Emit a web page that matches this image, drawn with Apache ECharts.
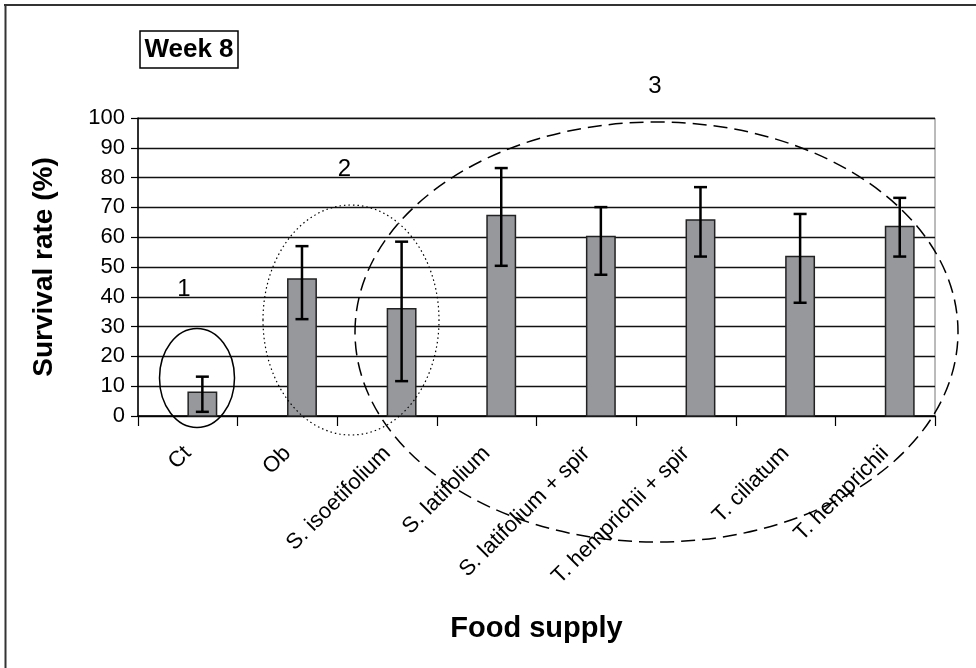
<!DOCTYPE html>
<html>
<head>
<meta charset="utf-8">
<script src="https://cdn.jsdelivr.net/npm/echarts@6/dist/echarts.min.js"></script>
<style>html,body{margin:0;padding:0;background:#fff;}#c{width:976px;height:668px;}</style>
</head>
<body>
<div id="c"></div>
<script>
var categories = ['Ct', 'Ob', 'S. isoetifolium', 'S. latifolium', 'S. latifolium + spir', 'T. hemprichii + spir', 'T. ciliatum', 'T. hemprichii'];
var survival = [8, 46, 36, 67.3, 60.2, 65.8, 53.5, 63.6];
var errLow = [1.4, 32.5, 11.7, 50.4, 47.4, 53.5, 38, 53.5];
var errHigh = [13.2, 57, 58.5, 83.2, 70.1, 76.8, 67.8, 73.2];
var yTicks = [0, 10, 20, 30, 40, 50, 60, 70, 80, 90, 100];

var FONT = 'Liberation Sans, Arial, sans-serif';
var chart = echarts.init(document.getElementById('c'));

var barData = categories.map(function (c, i) { return [i, survival[i]]; });
var errData = categories.map(function (c, i) { return [i, errLow[i], errHigh[i]]; });

var option = {
  animation: false,
  backgroundColor: '#fff',
  grid: { left: 138, right: 41, top: 118, bottom: 252, show: true, borderColor: '#777', borderWidth: 1, backgroundColor: 'transparent' },
  xAxis: {
    type: 'category',
    data: categories,
    boundaryGap: true,
    name: 'Food supply',
    nameLocation: 'middle',
    nameGap: 198,
    nameTextStyle: { fontFamily: FONT, fontSize: 29, fontWeight: 'bold', color: '#000' },
    axisLine: { show: true, lineStyle: { color: '#000', width: 1.5 } },
    axisTick: { show: true, length: 10, interval: 0, lineStyle: { color: '#000', width: 1.2 } },
    axisLabel: { interval: 0, rotate: 45, margin: 34, fontFamily: FONT, fontSize: 22, color: '#000' },
    splitLine: { show: false }
  },
  yAxis: {
    type: 'value',
    min: yTicks[0],
    max: yTicks[yTicks.length - 1],
    interval: yTicks[1] - yTicks[0],
    name: 'Survival rate (%)',
    nameLocation: 'middle',
    nameGap: 80,
    nameRotate: 90,
    nameTextStyle: { fontFamily: FONT, fontSize: 28, fontWeight: 'bold', color: '#000' },
    axisLine: { show: true, lineStyle: { color: '#000', width: 1.5 } },
    axisTick: { show: true, length: 7, lineStyle: { color: '#000', width: 1.2 } },
    axisLabel: { margin: 13, fontFamily: FONT, fontSize: 22, color: '#000' },
    splitLine: { show: true, lineStyle: { color: '#111', width: 1.3 } }
  },
  series: [
    {
      type: 'custom',
      name: 'Survival',
      data: barData,
      z: 3,
      renderItem: function (params, api) {
        var base = api.coord([api.value(0), 0]);
        var top = api.coord([api.value(0), api.value(1)]);
        var band = api.size([1, 0])[0];
        var w = band * 0.285;
        var cx = base[0] + band * 0.146;
        return {
          type: 'rect',
          shape: { x: cx - w / 2, y: top[1], width: w, height: base[1] - top[1] },
          style: { fill: '#97989c', stroke: '#222', lineWidth: 1.5 }
        };
      }
    },
    {
      type: 'custom',
      name: 'Error',
      data: errData,
      z: 4,
      renderItem: function (params, api) {
        var lo = api.coord([api.value(0), api.value(1)]);
        var hi = api.coord([api.value(0), api.value(2)]);
        var band = api.size([1, 0])[0];
        var cx = lo[0] + band * 0.146;
        var cap = 6.5;
        var st = { stroke: '#000', lineWidth: 2.5 };
        return {
          type: 'group',
          children: [
            { type: 'line', shape: { x1: cx, y1: lo[1], x2: cx, y2: hi[1] }, style: st },
            { type: 'line', shape: { x1: cx - cap, y1: lo[1], x2: cx + cap, y2: lo[1] }, style: st },
            { type: 'line', shape: { x1: cx - cap, y1: hi[1], x2: cx + cap, y2: hi[1] }, style: st }
          ]
        };
      }
    }
  ],
  graphic: [
    { type: 'line', z: 100, shape: { x1: 4, y1: 5, x2: 976, y2: 5 }, style: { stroke: '#333', lineWidth: 2 } },
    { type: 'line', z: 100, shape: { x1: 5.5, y1: 4, x2: 5.5, y2: 668 }, style: { stroke: '#333', lineWidth: 2 } },
    { type: 'rect', z: 100, shape: { x: 140, y: 31, width: 98, height: 37 }, style: { fill: '#fff', stroke: '#000', lineWidth: 1.5 } },
    { type: 'text', z: 101, x: 189, y: 50, style: { text: 'Week 8', font: 'bold 26px ' + FONT, fill: '#000', textAlign: 'center', textVerticalAlign: 'middle' } },
    { type: 'text', z: 101, x: 184, y: 289, style: { text: '1', font: '24px ' + FONT, fill: '#000', textAlign: 'center', textVerticalAlign: 'middle' } },
    { type: 'text', z: 101, x: 344.5, y: 169, style: { text: '2', font: '24px ' + FONT, fill: '#000', textAlign: 'center', textVerticalAlign: 'middle' } },
    { type: 'text', z: 101, x: 655, y: 86, style: { text: '3', font: '24px ' + FONT, fill: '#000', textAlign: 'center', textVerticalAlign: 'middle' } },
    { type: 'ellipse', z: 100, shape: { cx: 197, cy: 378, rx: 37.5, ry: 49.5 }, style: { fill: 'none', stroke: '#000', lineWidth: 1.5 } },
    { type: 'ellipse', z: 100, shape: { cx: 351, cy: 320, rx: 88, ry: 115 }, style: { fill: 'none', stroke: '#000', lineWidth: 1.2, lineDash: [1.5, 3] } },
    { type: 'ellipse', z: 100, shape: { cx: 656.5, cy: 332, rx: 301.5, ry: 210 }, style: { fill: 'none', stroke: '#000', lineWidth: 1.5, lineDash: [14, 7] } }
  ]
};
chart.setOption(option);
</script>
</body>
</html>
